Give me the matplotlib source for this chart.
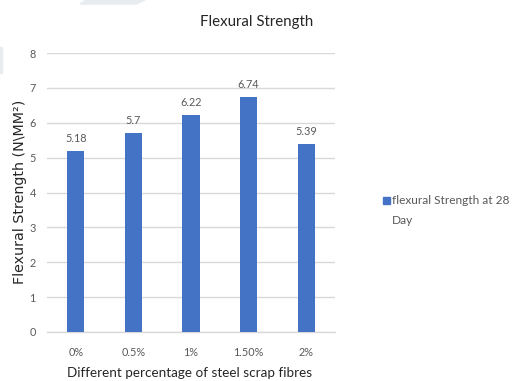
import matplotlib
matplotlib.use("Agg")
import matplotlib.pyplot as plt
from matplotlib.patches import Polygon, Rectangle

categories = ["0%", "0.5%", "1%", "1.50%", "2%"]
strength_28_day = [5.18, 5.7, 6.22, 6.74, 5.39]
value_labels = ["5.18", "5.7", "6.22", "6.74", "5.39"]
y_ticks = [0, 1, 2, 3, 4, 5, 6, 7, 8]

BAR = "#4472C4"
GRID = "#D9D9D9"
TICK = "#595959"
TEXT = "#262626"

W, H = 513, 381
fig = plt.figure(figsize=(W / 100, H / 100), dpi=100)

# plot area in pixel coordinates
left, right, top, bottom = 47, 335, 53, 332
ax = fig.add_axes([left / W, 1 - bottom / H, (right - left) / W, (bottom - top) / H])

x = list(range(len(categories)))
bars = ax.bar(x, strength_28_day, width=0.30, color=BAR, zorder=3,
              label="flexural Strength at 28\nDay")

for xi, v, lab in zip(x, strength_28_day, value_labels):
    ax.annotate(lab, (xi, v), xytext=(0, 5), textcoords="offset points",
                ha="center", va="bottom", fontsize=7.8, color=TICK,
                family="Lato")

ax.set_xlim(-0.5, len(categories) - 0.5)
ax.set_ylim(0, 8)
ax.set_yticks(y_ticks)
ax.set_xticks(x)
ax.set_xticklabels(categories, fontsize=7.8, color=TICK, family="Lato")
ax.set_yticklabels([str(t) for t in y_ticks], fontsize=7.8, color=TICK, family="Lato")
ax.tick_params(axis="both", length=0)
ax.tick_params(axis="x", pad=11)
ax.tick_params(axis="y", pad=8)
ax.grid(axis="y", color=GRID, linewidth=1.0, zorder=0)
for s in ["top", "right", "left"]:
    ax.spines[s].set_visible(False)
ax.spines["bottom"].set_color(GRID)
ax.spines["bottom"].set_linewidth(1.0)

fig.text(257 / W, 1 - 22 / H, "Flexural Strength", ha="center", va="center",
         fontsize=10.8, color=TEXT, family="Lato")
fig.text(190 / W, 1 - 373 / H, "Different percentage of steel scrap fibres",
         ha="center", va="center", fontsize=9.7, color=TEXT, family="Lato")
fig.text(20 / W, 1 - 192 / H, "Flexural Strength (N\\MM²)", ha="center",
         va="center", rotation=90, fontsize=10.3, color=TEXT, family="DejaVu Sans")

# legend entry
fig.patches.append(Rectangle((383 / W, 1 - 203.5 / H), 6.5 / W, 6.5 / H,
                             transform=fig.transFigure, color=BAR))
fig.text(392 / W, 1 - 200 / H, "flexural Strength at 28", ha="left", va="center",
         fontsize=8.6, color=TICK, family="Lato")
fig.text(392 / W, 1 - 220 / H, "Day", ha="left", va="center",
         fontsize=8.6, color=TICK, family="Lato")

# faint decorative shapes at the page edge
fig.patches.append(Polygon([(80 / W, 1 - 4 / H), (86 / W, 1.0), (145 / W, 1.0),
                            (136 / W, 1 - 4 / H)], closed=True,
                           transform=fig.transFigure, color="#E6ECF0"))
fig.patches.append(Rectangle((0, 1 - 73 / H), 2 / W, 26 / H,
                             transform=fig.transFigure, color="#E6ECF0"))

fig.savefig("out.png", dpi=100)
